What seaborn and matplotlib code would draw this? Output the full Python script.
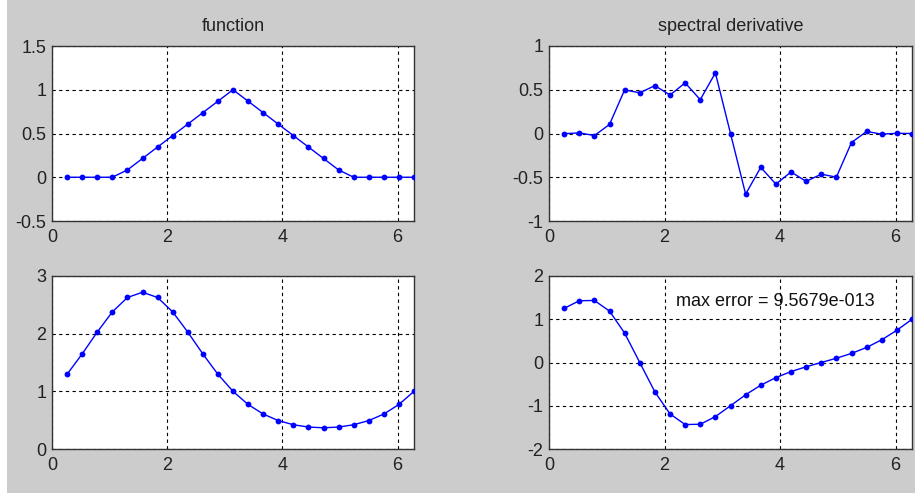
import numpy as np
import pandas as pd
import seaborn as sns
import matplotlib
matplotlib.use("Agg")
import matplotlib.pyplot as plt
from matplotlib.patches import Rectangle

# grid points x_j = j*2*pi/24, j = 1..24
x = [0.2618, 0.5236, 0.7854, 1.0472, 1.3090, 1.5708, 1.8326, 2.0944,
     2.3562, 2.6180, 2.8798, 3.1416, 3.4034, 3.6652, 3.9270, 4.1888,
     4.4506, 4.7124, 4.9742, 5.2360, 5.4978, 5.7596, 6.0214, 6.2832]

# hat function samples
hat = [0, 0, 0, 0, 0.0837, 0.2146, 0.3455, 0.4764, 0.6073, 0.7382, 0.8691, 1.0,
       0.8691, 0.7382, 0.6073, 0.4764, 0.3455, 0.2146, 0.0837, 0, 0, 0, 0, 0]

# spectral derivative of the hat function
hat_deriv = [-0.0023, 0.0074, -0.0233, 0.1031, 0.4987, 0.4649, 0.5471, 0.4393,
             0.5788, 0.3867, 0.6929, 0.0, -0.6929, -0.3867, -0.5788, -0.4393,
             -0.5471, -0.4649, -0.4987, -0.1031, 0.0233, -0.0074, 0.0023, 0.0]

# exp(sin x) samples
smooth = [1.2954, 1.6487, 2.0281, 2.3774, 2.6272, 2.7183, 2.6272, 2.3774,
          2.0281, 1.6487, 1.2954, 1.0, 0.7720, 0.6065, 0.4931, 0.4206,
          0.3806, 0.3679, 0.3806, 0.4206, 0.4931, 0.6065, 0.7720, 1.0]

# spectral derivative of exp(sin x)
smooth_deriv = [1.2513, 1.4278, 1.4341, 1.1887, 0.6800, 0.0, -0.6800, -1.1887,
                -1.4341, -1.4278, -1.2513, -1.0, -0.7457, -0.5253, -0.3487, -0.2103,
                -0.0985, 0.0, 0.0985, 0.2103, 0.3487, 0.5253, 0.7457, 1.0]

titles = ["function", "spectral derivative", "", ""]
ylims = [(-0.5, 1.5), (-1, 1), (0, 3), (-2, 2)]
yticks = [[-0.5, 0, 0.5, 1, 1.5], [-1, -0.5, 0, 0.5, 1], [0, 1, 2, 3], [-2, -1, 0, 1, 2]]
xticks = [0, 2, 4, 6]
error_label = "max error = 9.5679e-013"

sns.set_style("white")
plt.rcParams["font.family"] = ["Liberation Sans", "DejaVu Sans"]
plt.rcParams["axes.unicode_minus"] = False

FS = 13
W, H = 915, 493
fig = plt.figure(figsize=(W / 100, H / 100), dpi=100, facecolor="#cccccc")
fig.patches.append(Rectangle((0, 0), 7 / W, 1, transform=fig.transFigure,
                             facecolor="white", edgecolor="none", zorder=-1))

# axes boxes in pixels: (left, top, right, bottom)
boxes = [(52, 46, 414, 221), (549, 46, 912, 221),
         (52, 276, 414, 449), (549, 276, 912, 449)]
series = [hat, hat_deriv, smooth, smooth_deriv]

for i, (l, t, r, b) in enumerate(boxes):
    ax = fig.add_axes([l / W, 1 - b / H, (r - l) / W, (b - t) / H])
    ax.set_facecolor("white")
    df = pd.DataFrame({"x": x, "y": series[i]})
    sns.lineplot(data=df, x="x", y="y", ax=ax, color="#0000ff", linewidth=1.0,
                 marker="o", markersize=4.2, markeredgewidth=0, sort=False,
                 zorder=3)
    ax.set_xlim(0, 2 * np.pi)
    ax.set_ylim(*ylims[i])
    ax.set_xticks(xticks)
    ax.set_yticks(yticks[i])
    ax.set_xticklabels([f"{v:g}" for v in xticks])
    ax.set_yticklabels([f"{v:g}" for v in yticks[i]])
    ax.set_xlabel("")
    ax.set_ylabel("")
    ax.grid(True, color="black", linestyle=(0, (3, 3)), linewidth=0.8)
    ax.tick_params(direction="in", length=4, width=0.8, labelsize=FS,
                   colors="#222222", pad=4)
    ax.tick_params(axis="x", pad=5.5)
    for s in ax.spines.values():
        s.set_color("#333333")
        s.set_linewidth(1.0)
        s.set_visible(True)
    if titles[i]:
        ax.set_title(titles[i], fontsize=FS, color="#222222", pad=11)
    if i == 3:
        ax.text(2.2, 1.4, error_label, fontsize=FS, color="#111111",
                ha="left", va="center")

fig.savefig("out.png", dpi=100, facecolor=fig.get_facecolor())
